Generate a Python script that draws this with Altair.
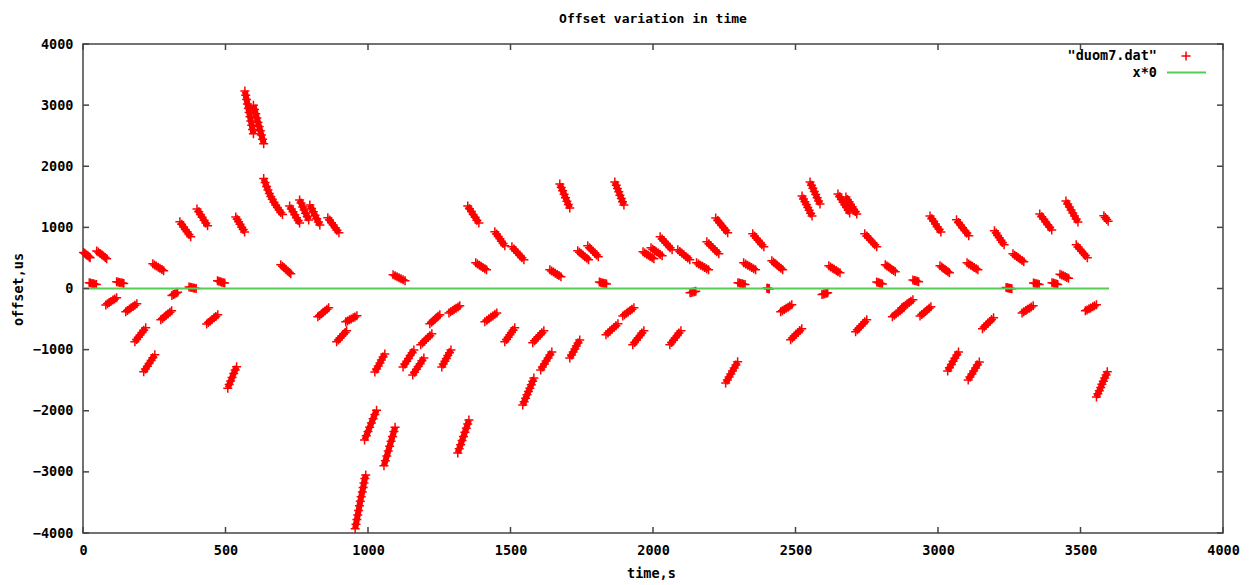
import altair as alt
import pandas as pd

# Measurement bursts: time (s) and clock offset (us), one burst per line.
burst_time_s = [
    [2, 6, 10, 14, 18, 22, 25],
    [22, 27, 32, 37, 42, 47],
    [48, 54, 60, 66, 72, 78, 83],
    [80, 86, 92, 98, 105, 111, 118],
    [118, 123, 128, 133, 138, 143],
    [150, 156, 163, 169, 176, 182, 189],
    [182, 188, 194, 200, 207, 213, 220],
    [213, 219, 226, 232, 239, 245, 252],
    [245, 251, 257, 264, 270, 277, 283],
    [273, 279, 286, 292, 298, 305, 311],
    [312, 317, 322, 327, 332],
    [340, 346, 353, 359, 365, 372, 378],
    [372, 377, 382, 387, 392, 397],
    [400, 406, 412, 418, 425, 431, 437],
    [434, 440, 447, 453, 460, 466, 473],
    [472, 477, 482, 487, 492, 497],
    [508, 513, 518, 523, 529, 534, 539],
    [536, 541, 546, 551, 557, 562, 567],
    [568, 571, 574, 577, 580, 583, 586, 589, 592, 595, 598],
    [598, 602, 606, 610, 614, 618, 622, 626, 630, 634],
    [634, 639, 644, 649, 654, 659, 664, 670, 676, 682, 688, 694, 700],
    [694, 700, 706, 712, 718, 724, 729],
    [725, 731, 737, 743, 749, 755, 760],
    [760, 765, 771, 776, 781, 787, 792],
    [796, 802, 808, 814, 820, 826, 831],
    [824, 830, 837, 843, 849, 856, 862],
    [859, 865, 872, 878, 885, 891, 898],
    [890, 896, 902, 908, 914, 920, 925],
    [922, 928, 935, 941, 948, 954, 961],
    [955, 958, 961, 964, 967, 970, 973, 976, 980, 983, 986, 989, 992],
    [988, 994, 1000, 1006, 1012, 1018, 1024, 1030],
    [1024, 1030, 1036, 1042, 1047, 1053, 1059],
    [1056, 1061, 1066, 1071, 1076, 1081, 1086, 1091, 1095],
    [1088, 1095, 1102, 1109, 1116, 1123, 1130],
    [1123, 1129, 1136, 1142, 1148, 1155, 1161],
    [1157, 1163, 1170, 1176, 1183, 1189, 1196],
    [1185, 1191, 1198, 1204, 1211, 1217, 1224],
    [1217, 1223, 1229, 1235, 1240, 1246, 1252],
    [1259, 1264, 1270, 1275, 1280, 1286, 1291],
    [1284, 1290, 1297, 1303, 1309, 1316, 1322],
    [1315, 1320, 1325, 1330, 1335, 1340, 1345, 1350, 1354],
    [1350, 1356, 1363, 1369, 1376, 1382, 1389],
    [1378, 1384, 1391, 1397, 1403, 1410, 1416],
    [1410, 1417, 1424, 1431, 1438, 1445, 1452],
    [1445, 1451, 1457, 1463, 1468, 1474, 1480],
    [1480, 1486, 1492, 1498, 1503, 1509, 1515],
    [1505, 1512, 1519, 1526, 1533, 1540, 1547],
    [1543, 1548, 1553, 1558, 1563, 1568, 1573, 1578, 1582],
    [1578, 1584, 1591, 1597, 1604, 1610, 1617],
    [1606, 1612, 1619, 1625, 1632, 1638, 1645],
    [1638, 1644, 1651, 1657, 1664, 1670, 1677],
    [1673, 1678, 1683, 1688, 1693, 1698, 1703, 1708],
    [1708, 1714, 1720, 1726, 1731, 1737, 1743],
    [1736, 1742, 1749, 1755, 1761, 1768, 1774],
    [1771, 1777, 1783, 1790, 1796, 1802, 1808],
    [1812, 1817, 1822, 1827, 1832, 1837],
    [1835, 1842, 1849, 1856, 1863, 1870, 1877],
    [1866, 1871, 1875, 1880, 1884, 1889, 1893, 1898],
    [1894, 1900, 1907, 1913, 1920, 1926, 1933],
    [1929, 1935, 1942, 1948, 1955, 1961, 1968],
    [1965, 1971, 1978, 1984, 1990, 1997, 2003],
    [1993, 1999, 2006, 2012, 2019, 2025, 2032],
    [2025, 2032, 2039, 2046, 2053, 2060, 2067],
    [2059, 2065, 2072, 2078, 2085, 2091, 2098],
    [2087, 2094, 2101, 2108, 2115, 2122, 2129],
    [2130, 2135, 2140, 2145, 2150],
    [2153, 2160, 2167, 2174, 2181, 2188, 2195],
    [2189, 2196, 2203, 2210, 2217, 2224, 2231],
    [2220, 2227, 2234, 2241, 2248, 2255, 2262],
    [2255, 2261, 2267, 2273, 2279, 2285, 2291, 2297],
    [2298, 2303, 2308, 2313, 2318, 2323],
    [2318, 2325, 2332, 2339, 2346, 2353, 2360],
    [2350, 2356, 2363, 2369, 2376, 2382, 2389],
    [2400, 2402, 2404, 2406, 2408],
    [2417, 2423, 2430, 2436, 2442, 2449, 2455],
    [2448, 2454, 2461, 2467, 2474, 2480, 2487],
    [2483, 2489, 2496, 2502, 2509, 2515, 2522],
    [2523, 2528, 2533, 2538, 2543, 2548, 2553, 2558],
    [2551, 2556, 2561, 2566, 2571, 2576, 2581, 2586],
    [2593, 2598, 2603, 2608, 2613],
    [2617, 2623, 2630, 2636, 2643, 2649, 2656],
    [2649, 2655, 2661, 2667, 2673, 2679, 2685, 2690],
    [2677, 2682, 2688, 2693, 2699, 2704, 2710, 2715],
    [2711, 2717, 2724, 2730, 2737, 2743, 2750],
    [2743, 2750, 2757, 2764, 2771, 2778, 2785],
    [2785, 2790, 2795, 2800, 2805],
    [2815, 2821, 2827, 2833, 2838, 2844, 2850],
    [2840, 2847, 2853, 2860, 2867, 2873, 2880],
    [2873, 2879, 2886, 2892, 2899, 2905, 2912],
    [2912, 2917, 2922, 2927, 2932],
    [2937, 2943, 2950, 2956, 2962, 2969, 2975],
    [2972, 2978, 2985, 2991, 2997, 3004, 3010],
    [3007, 3013, 3018, 3024, 3029, 3035, 3040],
    [3034, 3040, 3047, 3053, 3059, 3066, 3072],
    [3065, 3072, 3079, 3086, 3094, 3101, 3108],
    [3102, 3108, 3115, 3121, 3127, 3134, 3140],
    [3106, 3112, 3119, 3125, 3132, 3138, 3145],
    [3156, 3162, 3169, 3175, 3182, 3188, 3195],
    [3198, 3204, 3209, 3215, 3221, 3226, 3232],
    [3239, 3243, 3247, 3251, 3255, 3259],
    [3263, 3269, 3276, 3282, 3288, 3295, 3301],
    [3295, 3301, 3308, 3314, 3321, 3327, 3334],
    [3335, 3340, 3345, 3350, 3355],
    [3357, 3364, 3371, 3378, 3385, 3392, 3399],
    [3400, 3405, 3410, 3415, 3420],
    [3428, 3434, 3440, 3446, 3452, 3458],
    [3449, 3455, 3461, 3467, 3473, 3479, 3485, 3491],
    [3485, 3491, 3498, 3504, 3511, 3517, 3524],
    [3517, 3523, 3530, 3536, 3543, 3549, 3556],
    [3556, 3561, 3566, 3571, 3575, 3580, 3585, 3590, 3594],
    [3582, 3587, 3592, 3597],
]

burst_offset_us = [
    [588, 575, 561, 546, 530, 515, 502],
    [95, 88, 82, 76, 70, 64],
    [615, 596, 574, 553, 530, 508, 488],
    [-268, -249, -230, -211, -190, -171, -152],
    [112, 106, 100, 94, 88, 82],
    [-382, -360, -337, -316, -293, -272, -250],
    [-872, -835, -798, -762, -720, -682, -643],
    [-1362, -1318, -1270, -1226, -1178, -1133, -1085],
    [404, 386, 368, 348, 330, 309, 290],
    [-512, -489, -462, -439, -416, -389, -365],
    [-115, -100, -88, -75, -62],
    [1090, 1051, 1006, 967, 929, 884, 845],
    [25, 20, 15, 10, 5, 0],
    [1300, 1256, 1211, 1167, 1115, 1070, 1025],
    [-580, -557, -530, -507, -480, -457, -430],
    [128, 120, 112, 104, 96, 88],
    [-1630, -1572, -1515, -1458, -1390, -1333, -1280],
    [1170, 1131, 1091, 1052, 1004, 964, 925],
    [3230, 3160, 3090, 3020, 2950, 2880, 2810, 2740, 2670, 2600, 2530],
    [3000, 2930, 2860, 2790, 2720, 2650, 2580, 2510, 2440, 2370],
    [1800, 1735, 1670, 1610, 1555, 1505, 1460, 1410, 1365, 1325, 1285, 1245, 1210],
    [388, 363, 338, 313, 288, 262, 240],
    [1350, 1302, 1255, 1207, 1159, 1112, 1072],
    [1448, 1397, 1335, 1284, 1233, 1172, 1121],
    [1366, 1310, 1254, 1198, 1142, 1086, 1039],
    [-463, -440, -413, -390, -367, -340, -316],
    [1157, 1119, 1075, 1037, 993, 955, 911],
    [-872, -841, -810, -779, -748, -718, -692],
    [-545, -530, -512, -497, -480, -465, -447],
    [-3930, -3855, -3780, -3705, -3630, -3555, -3480, -3405, -3330, -3255, -3180, -3110, -3050],
    [-2480, -2410, -2340, -2270, -2200, -2130, -2060, -1990],
    [-1366, -1317, -1268, -1219, -1170, -1121, -1072],
    [-2900, -2820, -2740, -2660, -2580, -2500, -2420, -2340, -2270],
    [224, 208, 192, 175, 158, 142, 126],
    [-1283, -1237, -1190, -1144, -1098, -1051, -1005],
    [-1415, -1369, -1323, -1277, -1230, -1184, -1138],
    [-921, -891, -861, -831, -801, -771, -741],
    [-578, -553, -529, -504, -480, -455, -431],
    [-1283, -1237, -1190, -1144, -1098, -1051, -1005],
    [-399, -380, -360, -341, -322, -302, -283],
    [-2690, -2622, -2555, -2487, -2420, -2352, -2285, -2217, -2150],
    [1350, 1304, 1258, 1211, 1165, 1118, 1072],
    [420, 401, 382, 363, 343, 324, 305],
    [-545, -521, -496, -472, -448, -423, -399],
    [928, 890, 852, 814, 775, 737, 699],
    [-872, -834, -796, -758, -719, -681, -643],
    [682, 647, 611, 576, 541, 505, 470],
    [-1906, -1851, -1796, -1740, -1685, -1630, -1575, -1519, -1464],
    [-888, -855, -823, -790, -757, -725, -692],
    [-1332, -1283, -1234, -1185, -1136, -1087, -1038],
    [306, 287, 268, 249, 230, 211, 192],
    [1710, 1654, 1598, 1542, 1485, 1429, 1373, 1317],
    [-1136, -1087, -1038, -989, -939, -890, -841],
    [617, 593, 568, 544, 519, 495, 470],
    [698, 668, 638, 608, 579, 549, 519],
    [105, 98, 92, 86, 80, 74],
    [-757, -727, -697, -667, -638, -608, -578],
    [1742, 1688, 1634, 1581, 1527, 1473, 1420, 1366],
    [-450, -428, -405, -383, -361, -338, -316],
    [-921, -883, -845, -806, -768, -730, -692],
    [600, 581, 562, 543, 524, 505, 486],
    [666, 644, 622, 600, 579, 557, 535],
    [846, 810, 775, 739, 704, 668, 633],
    [-921, -883, -845, -806, -768, -730, -692],
    [633, 606, 579, 551, 524, 497, 470],
    [-70, -64, -58, -52, -46],
    [420, 401, 382, 363, 344, 325, 306],
    [764, 731, 699, 666, 633, 601, 568],
    [1153, 1113, 1072, 1032, 992, 951, 911],
    [-1545, -1496, -1447, -1397, -1348, -1299, -1250, -1200],
    [95, 88, 82, 76, 70, 64],
    [420, 401, 382, 363, 344, 325, 306],
    [894, 859, 823, 788, 753, 717, 682],
    [6, 3, 0, -3, -6],
    [453, 429, 404, 380, 355, 331, 306],
    [-381, -362, -343, -324, -305, -286, -267],
    [-839, -809, -779, -749, -719, -689, -659],
    [1513, 1466, 1419, 1373, 1326, 1279, 1233, 1186],
    [1742, 1691, 1639, 1588, 1536, 1485, 1433, 1382],
    [-100, -92, -85, -78, -70],
    [371, 352, 333, 314, 295, 276, 257],
    [1546, 1502, 1457, 1413, 1368, 1324, 1279, 1235],
    [1497, 1457, 1418, 1378, 1338, 1298, 1259, 1219],
    [-708, -675, -643, -610, -577, -545, -512],
    [894, 859, 823, 788, 753, 717, 682],
    [105, 98, 90, 82, 75],
    [388, 369, 350, 331, 312, 293, 274],
    [-463, -439, -414, -390, -365, -341, -316],
    [-316, -294, -272, -250, -229, -207, -185],
    [140, 132, 125, 118, 110],
    [-450, -425, -400, -375, -350, -325, -300],
    [1186, 1142, 1099, 1055, 1011, 968, 924],
    [371, 352, 333, 314, 295, 276, 257],
    [-1348, -1296, -1244, -1192, -1141, -1089, -1037],
    [1124, 1080, 1037, 993, 949, 906, 862],
    [420, 401, 382, 363, 344, 325, 306],
    [-1497, -1448, -1399, -1350, -1300, -1251, -1202],
    [-659, -629, -599, -569, -539, -509, -479],
    [944, 906, 868, 830, 791, 753, 715],
    [15, 11, 7, 3, -1, -5],
    [568, 546, 524, 503, 481, 459, 437],
    [-399, -380, -360, -341, -322, -302, -283],
    [90, 84, 78, 72, 66],
    [1219, 1175, 1132, 1088, 1044, 1001, 957],
    [95, 88, 80, 72, 65],
    [235, 222, 208, 195, 181, 168],
    [1432, 1383, 1334, 1285, 1235, 1186, 1137, 1088],
    [715, 680, 644, 609, 573, 538, 502],
    [-366, -350, -333, -317, -300, -284, -267],
    [-1775, -1723, -1672, -1620, -1568, -1517, -1465, -1414, -1362],
    [1190, 1160, 1130, 1100],
]

# Reference function x*0 plotted over the sampled time range
ref_time_s = [0, 3600]
ref_offset_us = [0, 0]

x_ticks = [0, 500, 1000, 1500, 2000, 2500, 3000, 3500, 4000]
y_ticks = [-4000, -3000, -2000, -1000, 0, 1000, 2000, 3000, 4000]

MONO = "DejaVu Sans Mono"
FS = 13.5
RED = "#ff0000"
GREEN = "#55cc55"
FRAME = "#444444"
W, H = 1140, 489
PLUS = "M-1,0L1,0M0,-1L0,1"

rows = []
for burst_id, (ts, vs) in enumerate(zip(burst_time_s, burst_offset_us)):
    assert len(ts) == len(vs)
    for t, v in zip(ts, vs):
        rows.append({"t": t, "v": v, "burst": burst_id})
points = pd.DataFrame(rows)
ref = pd.DataFrame({"t": ref_time_s, "v": ref_offset_us})
xt = pd.DataFrame({"t": x_ticks})
yt = pd.DataFrame({"v": y_ticks})

x_scale = alt.Scale(domain=[0, 4000], nice=False, zero=False)
y_scale = alt.Scale(domain=[-4000, 4000], nice=False, zero=False)

text_style = dict(font=MONO, fontSize=FS, fontWeight="bold")

x_enc = alt.X(
    "t:Q", scale=x_scale,
    axis=alt.Axis(
        values=x_ticks, format="d", ticks=False, domain=False, grid=False,
        labelFont=MONO, labelFontSize=FS, labelFontWeight="bold", labelColor="black",
        labelPadding=10, labelFlush=False, labelOverlap=False,
        title="time,s", titleFont=MONO, titleFontSize=FS, titleFontWeight="bold",
        titleColor="black", titleX=568, titleY=40, titleBaseline="middle",
        titleAnchor="start", titleAlign="center",
    ),
)
y_enc = alt.Y(
    "v:Q", scale=y_scale,
    axis=alt.Axis(
        values=y_ticks, format="d", ticks=False, domain=False, grid=False,
        labelFont=MONO, labelFontSize=FS, labelFontWeight="bold", labelColor="black",
        labelPadding=10, labelFlush=False, labelOverlap=False,
        title="offset,us", titleFont=MONO, titleFontSize=FS, titleFontWeight="bold",
        titleColor="black", titleX=-65, titleY=245, titleBaseline="middle",
        titleAnchor="start", titleAlign="center", titleAngle=270,
    ),
)

# Each burst of samples: a solid core joining its points, with the '+' markers on top
burst_core = alt.Chart(points).mark_line(
    color=RED, strokeWidth=6, strokeCap="butt", strokeJoin="round"
).encode(x=x_enc, y=y_enc, detail="burst:N", order="t:Q")

samples = alt.Chart(points).mark_point(
    shape=PLUS, filled=False, color=RED, size=81, strokeWidth=1.5, opacity=1
).encode(x=x_enc, y=y_enc)

zero_line = alt.Chart(ref).mark_line(color=GREEN, strokeWidth=2).encode(x=x_enc, y=y_enc)

# Inward tick marks on all four sides of the frame
ticks_bottom = alt.Chart(xt).mark_rule(color=FRAME, strokeWidth=1.5).encode(
    x=x_enc, y=alt.value(H), y2=alt.value(H - 6))
ticks_top = alt.Chart(xt).mark_rule(color=FRAME, strokeWidth=1.5).encode(
    x=x_enc, y=alt.value(0), y2=alt.value(6))
ticks_left = alt.Chart(yt).mark_rule(color=FRAME, strokeWidth=1.5).encode(
    y=y_enc, x=alt.value(0), x2=alt.value(6))
ticks_right = alt.Chart(yt).mark_rule(color=FRAME, strokeWidth=1.5).encode(
    y=y_enc, x=alt.value(W), x2=alt.value(W - 6))

# Key in the top-right corner: label on the left, sample on the right
key_style = dict(text_style, color="black", align="right", baseline="middle")
key_data = pd.DataFrame({"label": ['"duom7.dat"', "x*0"]})
key_text_1 = alt.Chart(key_data.iloc[:1]).mark_text(**key_style).encode(
    x=alt.value(1074), y=alt.value(12), text="label:N")
key_text_2 = alt.Chart(key_data.iloc[1:]).mark_text(**key_style).encode(
    x=alt.value(1074), y=alt.value(28.5), text="label:N")
key_plus = alt.Chart(key_data.iloc[:1]).mark_point(
    shape=PLUS, filled=False, color=RED, size=81, strokeWidth=1.5, opacity=1
).encode(x=alt.value(1103), y=alt.value(12))
key_line = alt.Chart(key_data.iloc[1:]).mark_rule(color=GREEN, strokeWidth=2).encode(
    x=alt.value(1084), x2=alt.value(1123), y=alt.value(28.5))

chart = (
    alt.layer(
        burst_core, samples, zero_line,
        ticks_bottom, ticks_top, ticks_left, ticks_right,
        key_text_1, key_text_2, key_plus, key_line,
    )
    .properties(
        width=W, height=H,
        autosize=alt.AutoSizeParams(type="none"),
        padding={"left": 83, "top": 44, "right": 33, "bottom": 52},
        background="white",
        title=alt.TitleParams(
            "Offset variation in time", font=MONO, fontSize=13, fontWeight="bold",
            color="black", anchor="middle", offset=11,
        ),
    )
    .configure_view(stroke=FRAME, strokeWidth=1.5)
)

chart.save("out.html", embed_options={"renderer": "svg", "actions": False})
